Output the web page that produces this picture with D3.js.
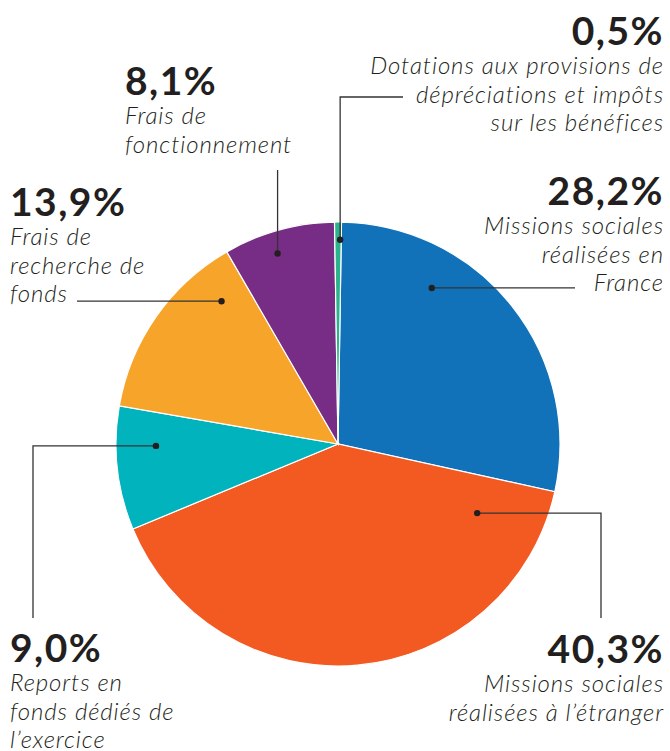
<html>
<head>
<meta charset="utf-8">
<script src="https://d3js.org/d3.v7.min.js"></script>
<style>
  body { margin: 0; background: #fff; }
  text { fill: #231f20; }
  .pct { font-family: Lato, "Open Sans", sans-serif; font-weight: 700; font-size: 39px; letter-spacing: 1.5px; }
  .lab { font-family: Lato, "Open Sans", sans-serif; font-weight: 300; font-style: italic; font-size: 24px; letter-spacing: 0.9px; }
</style>
</head>
<body>
<svg id="pie"></svg>
<script>
// données (ordre horaire depuis midi)
var categories = ["Missions sociales réalisées en France", "Missions sociales réalisées à l'étranger",
  "Reports en fonds dédiés de l'exercice", "Frais de recherche de fonds",
  "Frais de fonctionnement", "Dotations aux provisions de dépréciations et impôts sur les bénéfices"]
var values = [28.2, 40.3, 9.0, 13.9, 8.1, 0.5]
var pctLabels = ["28,2%", "40,3%", "9,0%", "13,9%", "8,1%", "0,5%"]
var labelLines = [
  ["Missions sociales", "réalisées en", "France"],
  ["Missions sociales", "réalisées à l’étranger"],
  ["Reports en", "fonds dédiés de", "l’exercice"],
  ["Frais de", "recherche de", "fonds"],
  ["Frais de", "fonctionnement"],
  ["Dotations aux provisions de", "dépréciations et impôts", "sur les bénéfices"]
]
var colors = ["#1172ba", "#f25a22", "#00b3bc", "#f7a42b", "#772c86", "#2ab38c"]

var width = 670, height = 751
var cx = 338, cy = 444, R = 222

// mise en page des étiquettes
// dot: [angle en degrés, fraction du rayon], leg: segments du trait après le point
var layout = [
  { dot: [31, 0.82], leg: [["h", 575]], anchor: "end", x: 664, y: 205 },
  { dot: [116.4, 0.70], leg: [["h", 601], ["v", 618]], anchor: "end", x: 664, y: 663 },
  { dot: [269.4, 0.82], leg: [["h", 33], ["v", 618]], anchor: "start", x: 10, y: 662 },
  { dot: [320.8, 0.83], leg: [["h", 77]], anchor: "start", x: 10, y: 216 },
  { dot: [342.4, 0.90], leg: [["v", 170]], anchor: "start", x: 125, y: 95 },
  { dot: [0.6, 0.92], leg: [["v", 97], ["h", 403]], anchor: "end", x: 664, y: 45 }
]

var svg = d3.select("#pie").attr("width", width).attr("height", height)

var offset = 0.9 * Math.PI / 180
var pie = d3.pie().sort(null).value(d => d)
  .startAngle(offset).endAngle(2 * Math.PI + offset)
var arc = d3.arc().innerRadius(0).outerRadius(R)

var g = svg.append("g").attr("transform", `translate(${cx},${cy})`)
g.selectAll("path")
  .data(pie(values))
  .join("path")
  .attr("d", arc)
  .attr("fill", (d, i) => colors[i])
  .attr("stroke", "#fff")
  .attr("stroke-width", 1.2)

// traits de rappel
layout.forEach(function(l, i) {
  var a = l.dot[0] * Math.PI / 180, r = l.dot[1] * R
  var x = cx + r * Math.sin(a), y = cy - r * Math.cos(a)
  var p = d3.path()
  p.moveTo(x, y)
  l.leg.forEach(function(s) {
    if (s[0] == "h") x = s[1]; else y = s[1]
    p.lineTo(x, y)
  })
  svg.append("path").attr("d", p.toString())
    .attr("fill", "none").attr("stroke", "#333").attr("stroke-width", 1.3)
  svg.append("circle")
    .attr("cx", cx + r * Math.sin(a)).attr("cy", cy - r * Math.cos(a))
    .attr("r", 3.2).attr("fill", "#231f20")
})

// textes
layout.forEach(function(l, i) {
  svg.append("text").attr("class", "pct")
    .attr("x", l.x).attr("y", l.y).attr("text-anchor", l.anchor)
    .text(pctLabels[i])
  labelLines[i].forEach(function(t, j) {
    svg.append("text").attr("class", "lab")
      .attr("x", l.x).attr("y", l.y + 29 + j * 28.5).attr("text-anchor", l.anchor)
      .text(t)
  })
})
</script>
</body>
</html>
